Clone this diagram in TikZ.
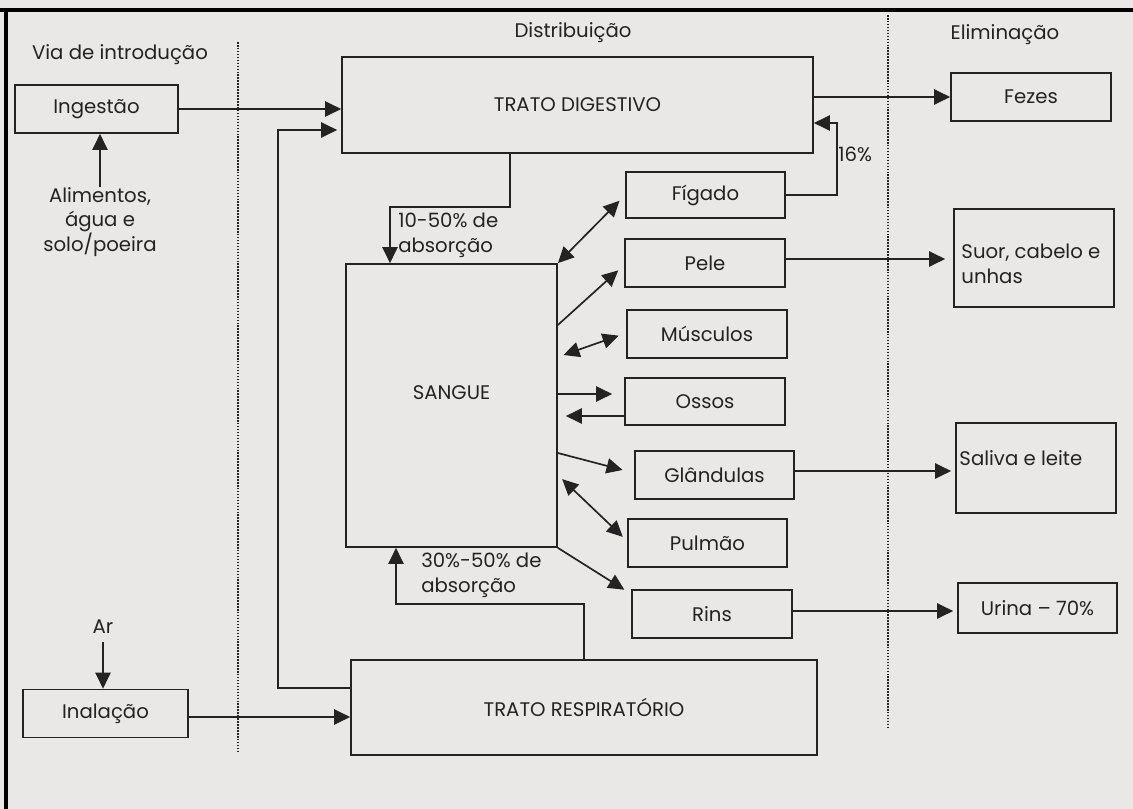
\documentclass[tikz,border=0pt]{standalone}
\usepackage{fontspec}
\setmainfont{Poppins}
\usetikzlibrary{arrows.meta,positioning}
\definecolor{papel}{RGB}{234,232,231}
\definecolor{tinta}{RGB}{35,35,35}
\def\u{0.025cm}
\tikzset{caixa/.style={draw=tinta,line width=1.2pt,minimum width=160*\u,minimum height=48*\u,inner sep=0pt,text=tinta},
 rotulo/.style={text=tinta,inner sep=0pt},
 seta/.style={draw=tinta,line width=1.2pt,->},
 dupla/.style={draw=tinta,line width=1.2pt,<->},
 divisa/.style={draw=tinta,line width=1.1pt,densely dotted}}

\begin{document}
\begin{tikzpicture}[x=\u,y=-\u,>={Triangle[length=4mm,width=3.8mm]},font=\fontsize{14}{17.5}\selectfont]
  \fill[papel] (0,0) rectangle (1133,809);
  \useasboundingbox (0,0) rectangle (1133,809);
  % moldura e divisas
  \draw[line width=2.4pt,black] (0,10) -- (1133,10) (6,10) -- (6,809);
  \draw[divisa] (238,42) -- (238,753);
  \draw[divisa] (888,15) -- (888,728);
  % titulos
  \node[rotulo] (via) at (120,55) {Via de introdução};
  \node[rotulo] (dist) at (573,33) {Distribuição};
  \node[rotulo] (elim) at (1005,35) {Eliminação};
  % vias de entrada
  \node[caixa,minimum width=163*\u] (ingest) at (96.5,109) {Ingestão};
  \node[rotulo,align=center] (alim) at (100,222) {Alimentos,\\água e\\solo/poeira};
  \node[rotulo] (ar) at (103,627) {Ar};
  \node[caixa,minimum width=165*\u] (inal) at (105.5,713.5) {Inalação};
  % distribuicao
  \node[caixa,minimum width=471*\u,minimum height=96*\u] (td) at (577.5,105) {TRATO DIGESTIVO};
  \node[caixa,minimum width=211*\u,minimum height=283*\u,
        label={[rotulo,yshift=13*\u]center:SANGUE}] (sangue) at (451.5,405.5) {};
  \node[caixa,minimum width=466*\u,minimum height=95*\u] (tr) at (584,707.5) {TRATO RESPIRATÓRIO};
  \node[caixa,minimum width=159*\u,minimum height=46*\u] (figado) at (705.5,195) {Fígado};
  \node[caixa] (pele) at (705,263) {Pele};
  \node[caixa] (musculos) at (707,334) {Músculos};
  \node[caixa,minimum height=47*\u] (ossos) at (705,401.5) {Ossos};
  \node[caixa,minimum width=159*\u] (glandulas) at (714.5,475) {Glândulas};
  \node[caixa,minimum width=159*\u] (pulmao) at (707.5,543) {Pulmão};
  \node[caixa] (rins) at (712,614) {Rins};
  % eliminacao
  \node[caixa] (fezes) at (1031,97) {Fezes};
  \node[caixa,minimum height=98*\u,
        label={[rotulo,anchor=west,align=left,xshift=8*\u,yshift=-6*\u]west:Suor, cabelo e\\unhas}] (suor) at (1034,258) {};
  \node[caixa,minimum height=90*\u,
        label={[rotulo,anchor=west,xshift=4*\u,yshift=10*\u]west:Saliva e leite}] (saliva) at (1036,468) {};
  \node[caixa,minimum width=159*\u,minimum height=50*\u] (urina) at (1037.5,608) {Urina – 70\%};
  % percentuais
  \node[rotulo,anchor=west,align=left] (abs1) at (398,235) {10-50\% de\\absorção};
  \node[rotulo,anchor=west] (p16) at (838,154) {16\%};
  \node[rotulo,anchor=west,align=left] (abs2) at (421,575) {30\%-50\% de\\absorção};
  % entradas
  \draw[seta] (alim.north) -- (alim.north |- ingest.south);
  \draw[seta,shorten <=2mm] (ar.south) -- (ar.south |- inal.north);
  \draw[seta] (ingest.east) -- (ingest.east -| td.west);
  \draw[seta] (inal.east |- 0,717) -- (tr.west |- 0,717);
  \draw[seta,shorten >=1mm] (tr.west |- 0,688) -| (278,130) -- (td.west |- 0,130);
  % absorcao
  \draw[seta] (td.south -| 510,0) |- (390,207) -- (sangue.north -| 390,0);
  \draw[seta] (tr.north) |- (396,604) -- (sangue.south -| 396,0);
  % trocas com o sangue
  \draw[dupla,shorten >=2mm] (sangue.north east) -- (figado.west);
  \draw[seta,shorten >=2mm] (sangue.east |- 0,325) -- (pele.west |- 0,265);
  \draw[dupla,shorten <=1.5mm,shorten >=2mm] (sangue.east |- 0,357) -- (musculos.west |- 0,333);
  \draw[seta,shorten >=3mm] (sangue.east |- 0,394) -- (ossos.west |- 0,394);
  \draw[seta,shorten >=2mm] (ossos.west |- 0,416) -- (sangue.east |- 0,416);
  \draw[seta,shorten >=3mm] (sangue.east |- 0,453) -- (glandulas.west |- 0,473);
  \draw[dupla,shorten <=1.5mm,shorten >=1.5mm] (sangue.east |- 0,475) -- (pulmao.west |- 0,541);
  \draw[seta,shorten >=2mm] (sangue.south east) -- (rins.west |- 0,594);
  % eliminacao
  \draw[seta] (td.east |- fezes.west) -- (fezes.west);
  \draw[seta] (figado.east) -| (837,123) -- (td.east |- 0,123);
  \draw[seta,shorten >=2mm] (pele.east |- 0,259) -- (suor.west |- 0,259);
  \draw[seta,shorten >=1mm] (glandulas.east |- 0,471) -- (saliva.west |- 0,471);
  \draw[seta,shorten >=1mm] (rins.east |- 0,611) -- (urina.west |- 0,611);
\end{tikzpicture}
\end{document}
